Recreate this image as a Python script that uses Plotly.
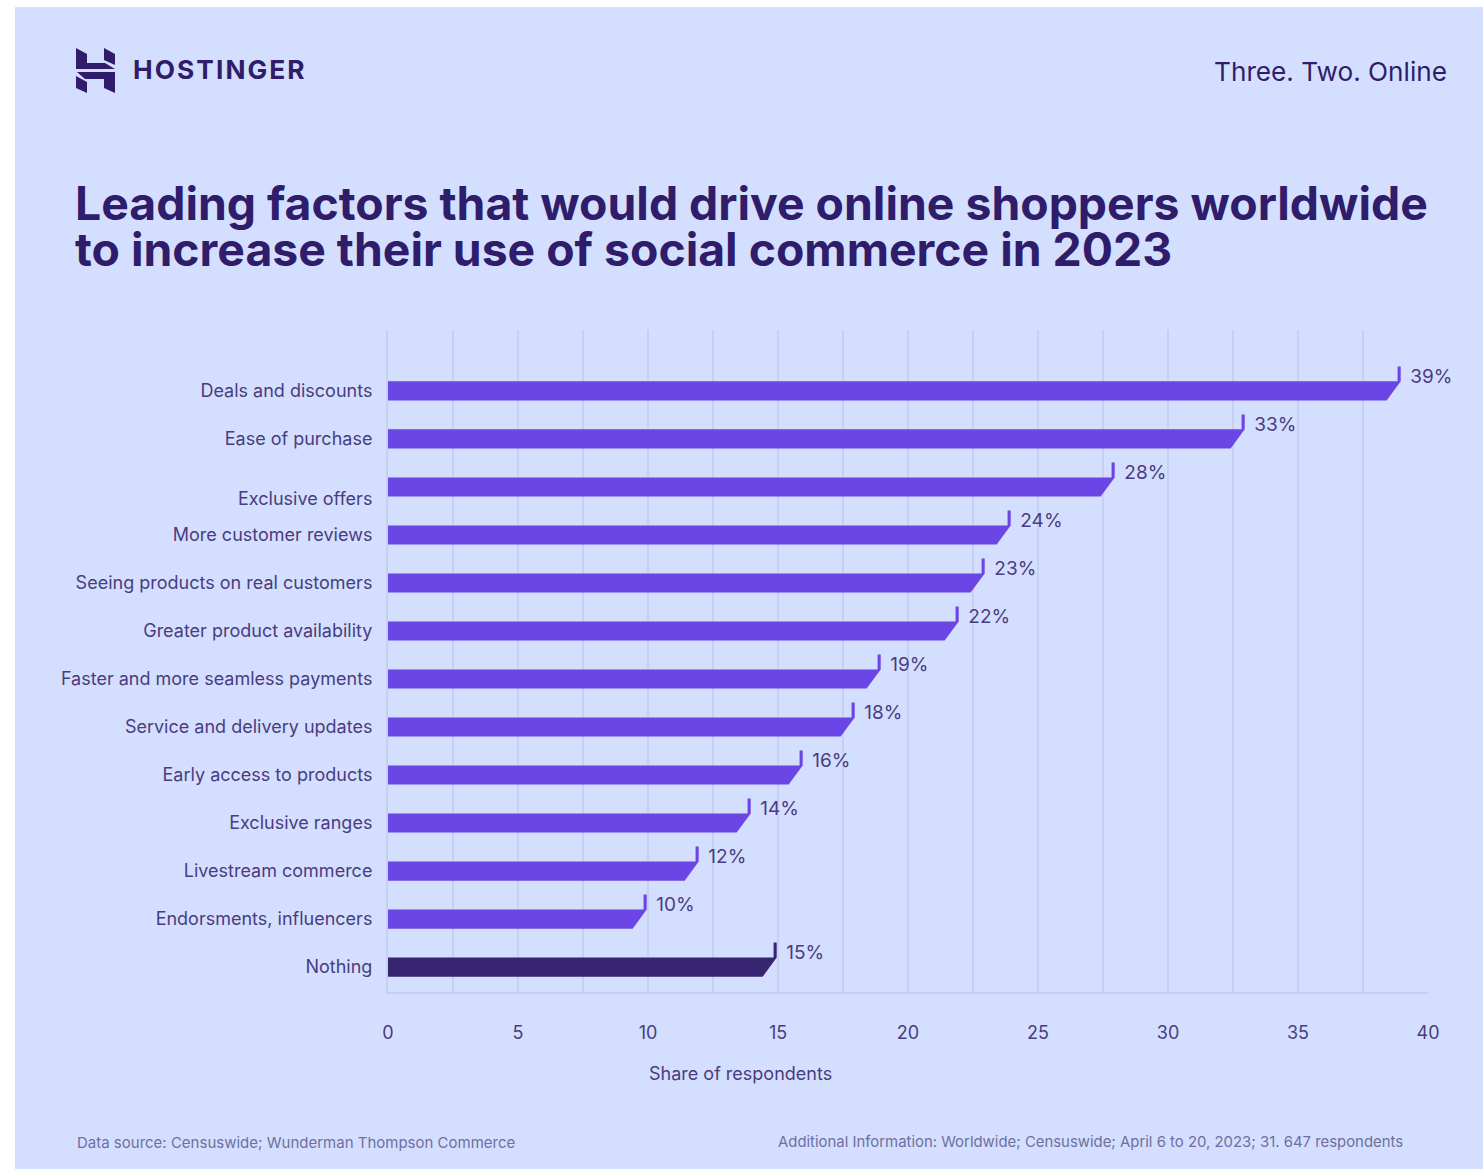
import plotly.graph_objects as go

W, H = 1483, 1169
L, R, T, B = 388, 1428, 330, 992

categories = ["Deals and discounts", "Ease of purchase", "Exclusive offers", "More customer reviews",
              "Seeing products on real customers", "Greater product availability",
              "Faster and more seamless payments", "Service and delivery updates",
              "Early access to products", "Exclusive ranges", "Livestream commerce",
              "Endorsments, influencers", "Nothing"]
shares = [39, 33, 28, 24, 23, 22, 19, 18, 16, 14, 12, 10, 15]
bar_colors = ["#673DE6"] * 12 + ["#2F1C6A"]
tick_positions = [0, 1, 2.25, 3, 4, 5, 6, 7, 8, 9, 10, 11, 12]
x_ticks = [0, 5, 10, 15, 20, 25, 30, 35, 40]

INK = "#2F1C6A"
SOFT = "#4A3C80"
PANEL = "#D4DFFF"
GRID = "#C6D0F2"
FONT = "Inter"

BAR_HALF = 0.2
STEM = 0.31
CHAMFER = 0.54
INSET = 0.05
STEM_W = 0.12


def px(x):
    # page pixels to paper fractions of the plot area
    return (x - L) / (R - L)


def py(y):
    return (B - y) / (B - T)


def poly(points):
    return "M" + " L".join(f"{px(a):.5f},{py(b):.5f}" for a, b in points) + " Z"


fig = go.Figure()

# One filled outline per bar: flat start, chamfered end, upright stem at the value.
for i, (v, c) in enumerate(zip(shares, bar_colors)):
    top, bot = i - BAR_HALF, i + BAR_HALF
    end = v - INSET
    xs = [0, end - STEM_W, end - STEM_W, end, end, end - CHAMFER, 0, 0]
    ys = [top, top, top - STEM, top - STEM, top, bot, bot, top]
    fig.add_trace(go.Scatter(x=xs, y=ys, mode="lines", fill="toself", fillcolor=c, opacity=0.95,
                             line=dict(width=0), hoverinfo="skip", showlegend=False))

fig.add_trace(go.Scatter(
    x=[v + 0.32 for v in shares], y=[i - STEM + 0.05 for i in range(len(shares))],
    mode="text", text=[f"{v}%" for v in shares], textposition="middle right", cliponaxis=False,
    textfont=dict(family=FONT, size=19, color=SOFT), hoverinfo="skip", showlegend=False))

logo = [
    [(76, 48), (87, 54), (87, 63), (105, 63), (115, 69), (76, 69)],
    [(104, 48), (115, 54), (115, 65), (104, 60)],
    [(77, 72), (115, 72), (115, 93), (104, 88), (104, 79), (85, 79)],
    [(76, 76), (87, 82), (87, 93), (76, 88)],
]
shapes = [dict(type="rect", xref="paper", yref="paper", x0=px(15), x1=px(W), y0=py(H), y1=py(7),
               fillcolor=PANEL, line_width=0, layer="below")]
shapes += [dict(type="path", xref="paper", yref="paper", path=poly(p), fillcolor=INK,
                line_width=0, layer="above") for p in logo]


def label(text, x, y, size, color=INK, anchor="left", weight=None, family=FONT):
    return dict(text=text, xref="paper", yref="paper", x=px(x), y=py(y), showarrow=False,
                xanchor=anchor, yanchor="middle", align=anchor,
                font=dict(family=family, size=size, color=color, weight=weight))


annotations = [
    label("H O S T I N G E R".replace(" ", "\u200a"), 131, 70, 26.3, weight=700),
    label("Three. Two. Online", 1449, 71, 26.2, anchor="right"),
    label("Leading factors that would drive online shoppers worldwide", 73, 203, 46.35, weight=700),
    label("to increase their use of social commerce in 2023", 73, 249, 46.35, weight=700),
    label("Share of respondents", 740, 1073, 18, color=SOFT, anchor="center"),
    label("Data source: Censuswide; Wunderman Thompson Commerce", 75, 1142, 15, color="#6F6FA0"),
    label("Additional Information: Worldwide; Censuswide; April 6 to 20, 2023; 31. 647 respondents",
          1405, 1142, 14.9, color="#6F6FA0", anchor="right"),
]

fig.update_layout(
    width=W, height=H, autosize=False,
    margin=dict(l=L, r=W - R, t=T, b=H - B, pad=0),
    paper_bgcolor="#FFFFFF", plot_bgcolor="rgba(0,0,0,0)",
    showlegend=False, shapes=shapes, annotations=annotations,
    xaxis=dict(range=[0, 40], tickvals=x_ticks, showgrid=True, gridcolor=GRID, gridwidth=2,
               minor=dict(dtick=2.5, showgrid=True, gridcolor=GRID, gridwidth=2),
               zeroline=False, showline=True, linecolor=GRID, linewidth=2,
               ticks="", ticklabelstandoff=23, tickfont=dict(family=FONT, size=18, color=SOFT)),
    yaxis=dict(range=[12.52, -1.27], tickvals=tick_positions, ticktext=categories,
               showgrid=False, zeroline=False, showline=True, linecolor=GRID, linewidth=2, ticks="",
               ticklabelstandoff=10, tickfont=dict(family=FONT, size=18, color=SOFT)),
)

fig.write_html("out.html", config=dict(displayModeBar=False))
